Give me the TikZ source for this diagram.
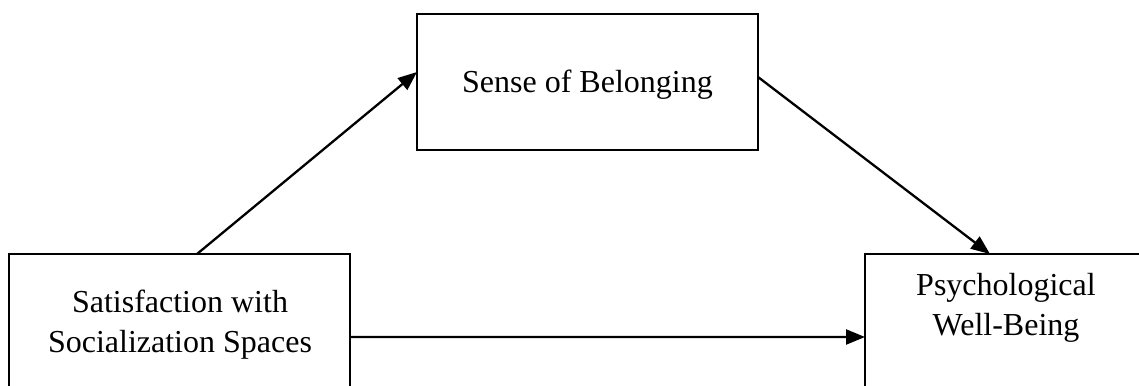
\documentclass[tikz,border=0pt]{standalone}
\usepackage{fontspec}
\setmainfont{Liberation Serif}
\usetikzlibrary{arrows.meta}
\begin{document}
\begin{tikzpicture}[x=1bp,y=-1bp,
  box/.style={draw=black,line width=2.8bp,rectangle,inner sep=0pt,outer sep=0pt},
  txt/.style={anchor=base,inner sep=0pt,font=\fontsize{32bp}{40bp}\selectfont},
  conn/.style={draw=black,line width=2.3bp,-{Triangle[length=19bp,width=15bp]}}]
\path[use as bounding box,clip] (0,0) rectangle (1139,385);
\node[box,minimum width=341bp,minimum height=142bp] (sat) at (179.5,325) {};
\node[box,minimum width=341bp,minimum height=136bp] (sob) at (587.5,82) {};
\node[box,minimum width=282bp,minimum height=146bp] (pwb) at (1006,327) {};
\node[txt] (sat1) at (180,312) {Satisfaction with};
\node[txt] (sat2) at (180,352) {Socialization Spaces};
\node[txt] (sob1) at (587.5,92) {Sense of Belonging};
\node[txt] (pwb1) at (1006,295) {Psychological};
\node[txt] (pwb2) at (1006,335) {Well-Being};
\draw[conn] ([xshift=188bp]sat.north west) -- ([yshift=-58bp]sob.north west);
\draw[conn] ([yshift=-63bp]sob.north east) -- ([xshift=125bp]pwb.north west);
\draw[conn] ([yshift=-83bp]sat.north east) -- ([yshift=-83bp]pwb.north west);
\end{tikzpicture}
\end{document}
